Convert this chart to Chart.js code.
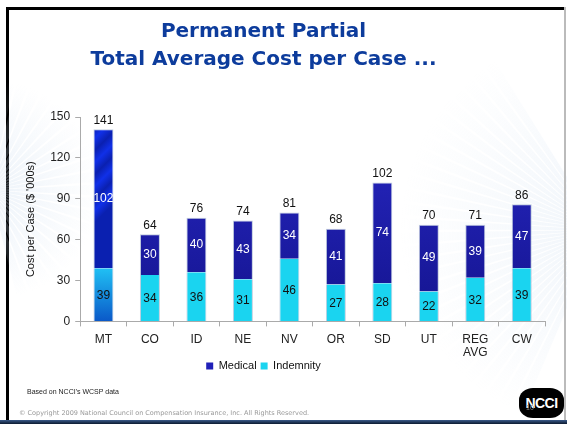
<!DOCTYPE html>
<html><head><meta charset="utf-8">
<script src="https://cdn.jsdelivr.net/npm/chart.js@4/dist/chart.umd.min.js"></script>
<style>
html,body{margin:0;padding:0;background:#fff;}
#slide{position:absolute;left:6px;top:7px;width:558px;height:413px;background:#fff;overflow:hidden;
 border-top:3px solid #000;border-left:3px solid #000;box-sizing:border-box;}
#bg{position:absolute;left:0;top:0;width:567px;height:424px;}
#wrap{position:absolute;left:0;top:0;width:567px;height:424px;}
.t{position:absolute;font-family:"DejaVu Sans",Verdana,sans-serif;font-weight:bold;color:#0d3c9c;font-size:20px;width:567px;text-align:center;left:-20px;}
#foot1{position:absolute;left:27px;top:388px;font-family:"Liberation Sans",Arial,sans-serif;font-size:7px;color:#222;}
#foot2{position:absolute;left:19px;top:409px;font-family:"DejaVu Sans",Verdana,sans-serif;font-size:6.5px;color:#999;}
#logo{position:absolute;left:519px;top:388px;width:45px;height:30px;background:#000;border-radius:14px/12px;color:#fff;
 font-family:"Liberation Sans",Arial,sans-serif;font-weight:bold;font-size:14px;text-align:center;line-height:30px;letter-spacing:-0.5px;}
#pg{position:absolute;left:526px;top:404px;font-family:"Liberation Sans",Arial,sans-serif;font-size:7px;color:#888;}
#bot{position:absolute;left:0;top:420px;width:567px;height:4px;background:linear-gradient(#3a5a8a,#0c1a30);}
#rgt{position:absolute;left:564px;top:7px;width:2px;height:413px;background:#bbb;}
</style></head>
<body>
<div id="slide"></div>
<canvas id="bg" width="567" height="424"></canvas>
<div id="rgt"></div>
<div class="t" style="top:18px;">Permanent Partial</div>
<div class="t" style="top:46px;">Total Average Cost per Case ...</div>
<div id="wrap"><canvas id="c"></canvas></div>
<div id="foot1">Based on NCCI's WCSP data</div>
<div id="foot2">© Copyright 2009 National Council on Compensation Insurance, Inc. All Rights Reserved.</div>
<div id="logo">NCCI</div>
<div id="pg">10</div>
<div id="bot"></div>
<script>
const categories = ["MT","CO","ID","NE","NV","OR","SD","UT",["REG","AVG"],"CW"];
const indemnity = [39,34,36,31,46,27,28,22,32,39];
const medical = [102,30,40,43,34,41,74,49,39,47];
const totals = [141,64,76,74,81,68,102,70,71,86];
const yTicks = [0,30,60,90,120,150];

// faint ray background
(function(){
  const g=document.getElementById('bg').getContext('2d');
  function rays(cx,cy,r0,r1,n,a0,a1,alpha){
    for(let i=0;i<n;i++){
      const a=a0+(a1-a0)*i/n;
      const w=(a1-a0)/n*0.4;
      const grd=g.createRadialGradient(cx,cy,r0,cx,cy,r1);
      grd.addColorStop(0,'rgba(205,222,240,'+alpha+')');
      grd.addColorStop(1,'rgba(205,222,240,0)');
      g.fillStyle=grd;
      g.beginPath();g.moveTo(cx,cy);
      g.arc(cx,cy,r1,a-w,a+w);g.closePath();g.fill();
    }
  }
  rays(-10,190,20,110,22,-1.4,1.4,0.3);
  rays(600,230,30,200,30,2.0,4.2,0.25);
})();

const ctx=document.getElementById('c').getContext('2d');

function medColor(c){
  const ch=c.chart, a=ch.chartArea;
  if(!a) return '#1f1fb8';
  if(c.dataIndex===0){
    const g=ch.ctx.createLinearGradient(a.left,a.top,a.left+60,a.top+60);
    for(let i=0;i<=10;i++){g.addColorStop(i/10, i%2? '#1030e8':'#0a20b0');}
    return g;
  }
  const g=ch.ctx.createLinearGradient(0,a.top,0,a.bottom);
  g.addColorStop(0,'#2828c4');g.addColorStop(1,'#14148f');
  return g;
}
function indColor(c){
  const ch=c.chart, a=ch.chartArea;
  if(!a) return '#1ad4f0';
  if(c.dataIndex===0){
    const y0=ch.scales.y.getPixelForValue(39);
    const g=ch.ctx.createLinearGradient(0,y0,0,a.bottom);
    g.addColorStop(0,'#20c0f4');g.addColorStop(1,'#0a58c8');
    return g;
  }
  return '#1ad4f0';
}

const labelPlugin={
  id:'lbl',
  afterLayout(chart){
    const L=chart.legend;
    if(L){
      L.left-=19;L.right-=19;
      const h=L.bottom-L.top;
      const top=369-h/2;
      L.top=top;L.bottom=top+h;
    }
  },
  afterDatasetsDraw(chart){
    const c=chart.ctx;
    const m0=chart.getDatasetMeta(0), m1=chart.getDatasetMeta(1);
    c.save();
    c.textAlign='center';c.textBaseline='middle';
    c.font='12px "Liberation Sans", Arial, sans-serif';
    for(let i=0;i<categories.length;i++){
      const b0=m0.data[i], b1=m1.data[i];
      c.fillStyle='#111';
      c.fillText(String(indemnity[i]), b0.x, (b0.y+b0.base)/2+1);
      c.fillStyle='#fff';
      c.fillText(String(medical[i]), b1.x, (b1.y+b1.base)/2);
      c.fillStyle='#111';
      c.fillText(String(totals[i]), b1.x, b1.y-9);
    }
    c.restore();
  }
};

Chart.defaults.font.family='"Liberation Sans", Arial, sans-serif';
new Chart(ctx,{
  type:'bar',
  data:{labels:categories,datasets:[
    {label:'Indemnity',data:indemnity,backgroundColor:indColor,borderColor:'rgba(150,170,200,0.6)',borderWidth:{left:1,right:1,top:0,bottom:0},barPercentage:0.43,categoryPercentage:1},
    {label:'Medical',data:medical,backgroundColor:medColor,borderColor:'rgba(150,170,200,0.6)',borderWidth:{left:1,right:1,top:1,bottom:0},barPercentage:0.43,categoryPercentage:1}
  ]},
  plugins:[labelPlugin],
  options:{
    responsive:true,maintainAspectRatio:false,animation:false,
    layout:{padding:{left:20,right:22,top:117,bottom:33}},
    plugins:{
      legend:{position:'bottom',reverse:true,labels:{boxWidth:7,boxHeight:7,padding:4,color:'#111',font:{size:11},
        generateLabels(chart){
          const items=Chart.defaults.plugins.legend.labels.generateLabels(chart);
          items.forEach(it=>{it.fillStyle = it.text==='Medical' ? '#2020b8' : '#1ad4f0'; it.strokeStyle='rgba(0,0,0,0)'; it.lineWidth=0;});
          return items;
        }}},
      tooltip:{enabled:false}
    },
    scales:{
      x:{stacked:true,offset:true,
        grid:{drawOnChartArea:false,drawTicks:true,tickLength:5,color:'#aaa',offset:true},
        border:{color:'#aaa'},
        ticks:{color:'#222',font:{size:12,lineHeight:1.15},padding:6}},
      y:{stacked:true,min:0,max:150,
        afterBuildTicks(ax){ax.ticks=yTicks.map(v=>({value:v}));},
        grid:{drawOnChartArea:false,drawTicks:true,tickLength:5,color:'#aaa'},
        border:{color:'#aaa'},
        ticks:{color:'#222',font:{size:12},padding:5},
        title:{display:true,text:"Cost per Case ($ '000s)",color:'#111',font:{size:11},padding:{bottom:8}}}
    }
  }
});
</script>
</body></html>
